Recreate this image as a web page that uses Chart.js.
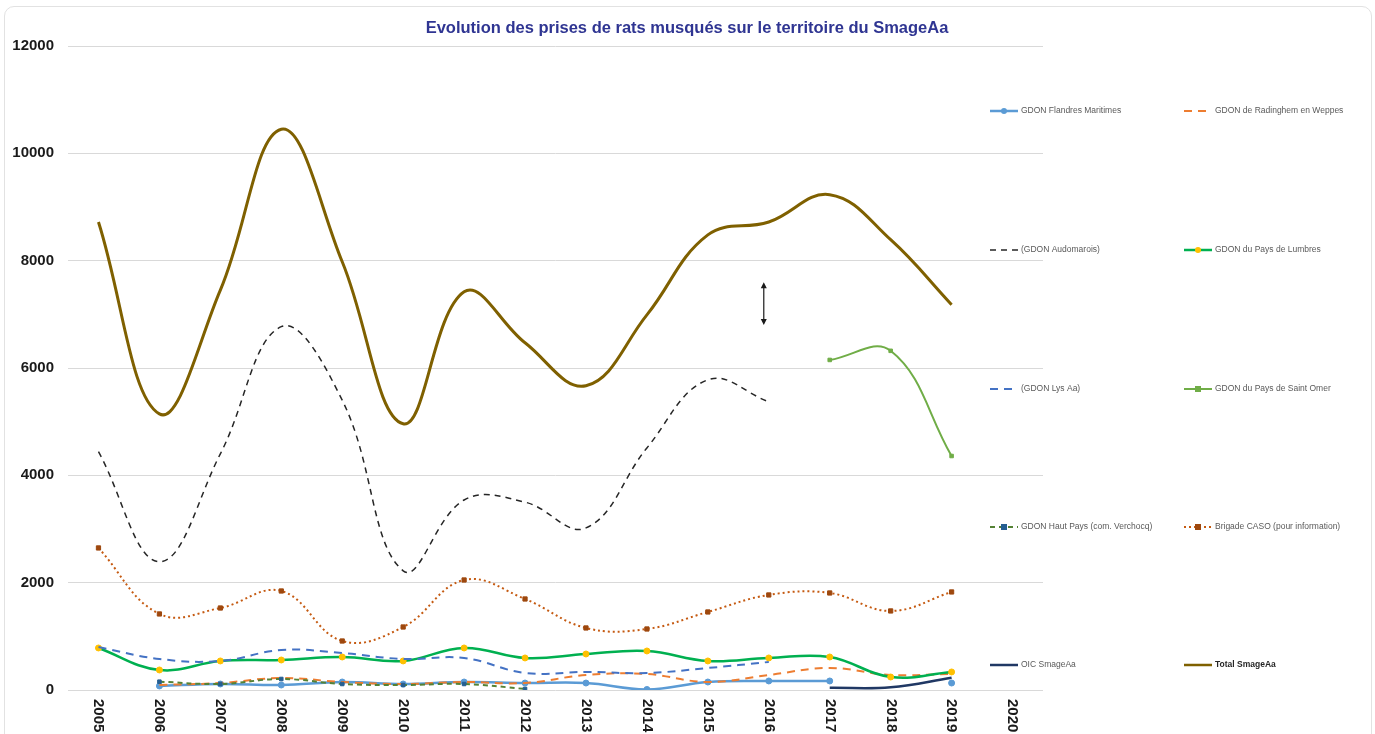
<!DOCTYPE html>
<html>
<head>
<meta charset="utf-8">
<script src="https://cdn.jsdelivr.net/npm/chart.js@4/dist/chart.umd.min.js"></script>
<style>
  body { margin: 0; background: #fff; }
  #wrap { position: relative; width: 1375px; height: 734px; overflow: hidden; }
  #cadre { position: absolute; left: 4px; top: 6px; width: 1366px; height: 760px; border: 1px solid #e2e2e2; border-radius: 10px; }
  canvas { position: absolute; left: 0; top: 0; }
</style>
</head>
<body>
<div id="wrap">
  <div id="cadre"></div>
  <canvas id="graphe" width="1375" height="734"></canvas>
</div>
<script>
// les années (2020 n'a aucune valeur)
const annees = ['2005', '2006', '2007', '2008', '2009', '2010', '2011', '2012', '2013', '2014', '2015', '2016', '2017', '2018', '2019', '2020'];

// prises par structure
const flandres = [null, 75, 112, 93, 149, 112, 149, 130, 130, 10, 149, 168, 168, null, 130];
const radinghem = [null, 93, 130, 224, 149, 112, 149, 130, 280, 298, 149, 280, 410, 280, 300];
const audomarois = [4440, 2390, 4400, 6770, 5400, 2220, 3540, 3500, 3020, 4510, 5780, 5370, null, null, null];
const lumbres = [783, 373, 541, 559, 615, 541, 783, 597, 671, 727, 541, 597, 615, 242, 336];
const lysAa = [800, 578, 540, 745, 690, 578, 597, 317, 336, 317, 410, 522, null, null, null];
const saintOmer = [null, null, null, null, null, null, null, null, null, null, null, null, 6150, 6320, 4360];
const hautPays = [null, 155, 112, 205, 112, 93, 112, 20, null, null, null, null, null, null, null];
const caso = [2647, 1417, 1528, 1845, 913, 1174, 2050, 1696, 1156, 1137, 1454, 1771, 1808, 1473, 1827];
const oic = [null, null, null, null, null, null, null, null, null, null, null, null, 40, 50, 230];
const total = [8720, 5145, 7450, 10450, 7980, 4960, 7420, 6470, 5670, 6990, 8480, 8720, 9230, 8390, 7180];

// la double flèche dessinée à la main dans l'original (vers 2016)
const flecheHaut = 7600;
const flecheBas = 6800;

const titre = 'Evolution des prises de rats musqués sur le territoire du SmageAa';

function serie(label, data, couleur, opts) {
  return Object.assign({
    label: label,
    data: data,
    borderColor: couleur,
    backgroundColor: couleur,
    borderWidth: 2,
    pointRadius: 0,
    pointBorderWidth: 1,
    pointStyle: 'circle',
    tension: 0.4,
    spanGaps: false,
    fill: false
  }, opts || {});
}

const datasets = [
  serie('GDON Flandres Maritimes', flandres, '#5b9bd5', { borderWidth: 2.5, pointRadius: 3 }),
  serie('GDON de Radinghem en Weppes', radinghem, '#ed7d31', { borderDash: [8, 6] }),
  serie('(GDON Audomarois)', audomarois, '#262626', { borderWidth: 1.5, borderDash: [6, 5] }),
  serie('GDON du Pays de Lumbres', lumbres, '#00b050', { borderWidth: 2.5, pointRadius: 3, backgroundColor: '#ffc000', pointBorderColor: '#ffc000' }),
  serie('(GDON Lys Aa)', lysAa, '#4472c4', { borderDash: [8, 6] }),
  serie('GDON du Pays de Saint Omer', saintOmer, '#70ad47', { pointRadius: 2.5, pointStyle: 'rect' }),
  serie('GDON Haut Pays (com. Verchocq)', hautPays, '#548235', { borderDash: [5, 4], pointRadius: 2.5, pointStyle: 'rect', backgroundColor: '#255e91', pointBorderColor: '#255e91' }),
  serie('Brigade CASO (pour information)', caso, '#c55a11', { borderDash: [2, 3], pointRadius: 3, pointStyle: 'rect', backgroundColor: '#9e480e', pointBorderColor: '#9e480e' }),
  serie('OIC SmageAa', oic, '#203864', { borderWidth: 2.5 }),
  serie('Total SmageAa', total, '#7f6000', { borderWidth: 3 })
];
// dans Excel la dernière série est dessinée par-dessus
datasets.forEach((d, i) => { d.order = datasets.length - i; });

// titre, étiquettes des années (rotation horaire), légende et flèche
const dessinsPlugin = {
  id: 'dessins',
  afterDraw(chart) {
    const ctx = chart.ctx;
    const xs = chart.scales.x;
    const ys = chart.scales.y;
    ctx.save();

    // titre
    ctx.fillStyle = '#2f3592';
    ctx.font = 'bold 16.5px "Liberation Sans", sans-serif';
    ctx.textAlign = 'center';
    ctx.textBaseline = 'middle';
    ctx.fillText(titre, 687, 28);

    // années
    ctx.fillStyle = '#1a1a1a';
    ctx.font = 'bold 15px "Liberation Sans", sans-serif';
    ctx.textAlign = 'left';
    annees.forEach((a, i) => {
      ctx.save();
      ctx.translate(xs.getPixelForValue(i), chart.chartArea.bottom + 9);
      ctx.rotate(Math.PI / 2);
      ctx.fillText(a, 0, 0);
      ctx.restore();
    });

    // flèche
    const fx = xs.getPixelForValue(11) - 5;
    const y1 = ys.getPixelForValue(flecheHaut);
    const y2 = ys.getPixelForValue(flecheBas);
    ctx.strokeStyle = '#1a1a1a';
    ctx.fillStyle = '#1a1a1a';
    ctx.lineWidth = 1.2;
    ctx.beginPath();
    ctx.moveTo(fx, y1 + 4);
    ctx.lineTo(fx, y2 - 4);
    ctx.stroke();
    ctx.beginPath();
    ctx.moveTo(fx, y1); ctx.lineTo(fx - 3, y1 + 6); ctx.lineTo(fx + 3, y1 + 6); ctx.closePath();
    ctx.moveTo(fx, y2); ctx.lineTo(fx - 3, y2 - 6); ctx.lineTo(fx + 3, y2 - 6); ctx.closePath();
    ctx.fill();

    // légende sur deux colonnes
    const colonnes = [990, 1184];
    const lignes = [111, 250, 389, 527, 665];
    chart.data.datasets.forEach((d, i) => {
      const x = colonnes[i % 2];
      const y = lignes[Math.floor(i / 2)];
      ctx.save();
      ctx.strokeStyle = d.borderColor;
      ctx.lineWidth = Math.min(d.borderWidth, 2.5);
      ctx.setLineDash(d.borderDash || []);
      ctx.beginPath();
      ctx.moveTo(x, y);
      ctx.lineTo(x + 28, y);
      ctx.stroke();
      ctx.setLineDash([]);
      if (d.pointRadius > 0) {
        ctx.fillStyle = d.backgroundColor;
        if (d.pointStyle === 'rect') {
          ctx.fillRect(x + 14 - 3, y - 3, 6, 6);
        } else {
          ctx.beginPath();
          ctx.arc(x + 14, y, 3, 0, Math.PI * 2);
          ctx.fill();
        }
      }
      const dernier = i === chart.data.datasets.length - 1;
      ctx.fillStyle = dernier ? '#262626' : '#595959';
      ctx.font = (dernier ? 'bold ' : '') + '8.5px "Liberation Sans", sans-serif';
      ctx.textAlign = 'left';
      ctx.textBaseline = 'middle';
      ctx.fillText(d.label, x + 31, y);
      ctx.restore();
    });

    ctx.restore();
  }
};

const graphe = new Chart(document.getElementById('graphe').getContext('2d'), {
  type: 'line',
  data: { labels: annees, datasets: datasets },
  options: {
    responsive: false,
    animation: false,
    layout: { padding: { left: 6, right: 332, top: 46, bottom: 0 } },
    plugins: {
      legend: { display: false },
      title: { display: false },
      tooltip: { enabled: false }
    },
    scales: {
      x: {
        type: 'category',
        offset: true,
        grid: { display: false },
        border: { display: false },
        ticks: { display: false },
        afterFit(scale) { scale.height = 44; }
      },
      y: {
        min: 0,
        max: 12000,
        grid: { color: '#d9d9d9', lineWidth: 1, drawTicks: false },
        border: { display: false },
        ticks: {
          stepSize: 2000,
          padding: 14,
          color: '#1a1a1a',
          font: { family: '"Liberation Sans", sans-serif', size: 15, weight: 'bold' },
          callback: (v) => String(v)
        },
        afterFit(scale) { scale.width = 62; }
      }
    }
  },
  plugins: [dessinsPlugin]
});
</script>
</body>
</html>
